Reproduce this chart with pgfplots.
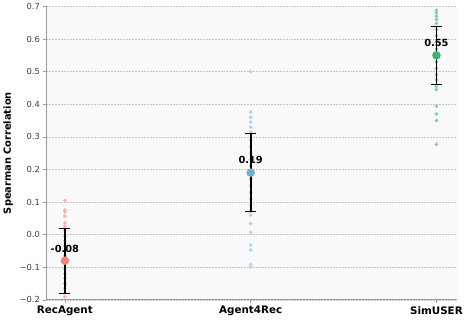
\documentclass[border=0pt]{standalone}
\usepackage{pgfplots}
\pgfplotsset{compat=1.18}
\usepackage{fontspec}
\setmainfont{DejaVu Sans}
\definecolor{cRA}{HTML}{FA8072}
\definecolor{cA4}{HTML}{6BAED6}
\definecolor{cSU}{HTML}{3CB371}
\definecolor{bg}{HTML}{F9F9F9}
\definecolor{spine}{HTML}{999999}
\colorlet{pRA}{cRA!60!white}
\colorlet{pA4}{cA4!50!white}
\colorlet{pSU}{cSU!60!white}
\begin{document}
\begin{tikzpicture}
\begin{axis}[
  scale only axis, width=417pt, height=298pt,
  xmin=-0.1, xmax=2.11, ymin=-0.2, ymax=0.7,
  axis x line*=bottom, axis y line*=left,
  axis line style={spine, line width=0.8pt, -},
  axis background/.style={fill=bg},
  xtick={0,1,2}, xticklabels={\textbf{RecAgent},\textbf{Agent4Rec},\textbf{SimUSER}},
  ytick={-0.2,-0.1,0,0.1,0.2,0.3,0.4,0.5,0.6,0.7},
  yticklabels={−0.2,−0.1,0.0,0.1,0.2,0.3,0.4,0.5,0.6,0.7},
  ticklabel style={font=\fontsize{8.5}{9}\selectfont, text=black!75},
  xticklabel style={font=\fontsize{10.5}{11}\selectfont, text=black},
  tick align=outside, major tick length=3pt,
  tick style={spine, line width=0.6pt},
  ymajorgrids, grid style={dash pattern=on 2pt off 1pt, gray!45, line width=0.5pt},
  ylabel={\textbf{Spearman Correlation}},
  ylabel style={font=\fontsize{10}{11}\selectfont},
  clip=false, clip marker paths=true,
]
% RecAgent points
\addplot[only marks, mark=*, mark size=1.9pt, mark options={draw=pRA, line width=0.1pt, fill=pRA}] coordinates {
(0,0.105)(0,0.076)(0,0.070)(0,0.057)(0,0.036)(0,0.026)(0,0.012)(0,-0.005)(0,-0.02)(0,-0.035)(0,-0.05)(0,-0.065)(0,-0.09)(0,-0.105)(0,-0.12)(0,-0.135)(0,-0.15)(0,-0.165)(0,-0.19)
};
% Agent4Rec points
\addplot[only marks, mark=*, mark size=1.9pt, mark options={draw=pA4, line width=0.1pt, fill=pA4}] coordinates {
(1,0.50)(1,0.376)(1,0.36)(1,0.345)(1,0.33)(1,0.315)(1,0.29)(1,0.27)(1,0.25)(1,0.23)(1,0.21)(1,0.17)(1,0.15)(1,0.13)(1,0.11)(1,0.09)(1,0.07)(1,0.06)(1,0.034)(1,0.007)(1,-0.032)(1,-0.047)(1,-0.092)(1,-0.10)
};
% SimUSER points
\addplot[only marks, mark=*, mark size=1.9pt, mark options={draw=pSU, line width=0.1pt, fill=pSU}] coordinates {
(2,0.688)(2,0.68)(2,0.67)(2,0.66)(2,0.648)(2,0.63)(2,0.61)(2,0.59)(2,0.57)(2,0.53)(2,0.51)(2,0.49)(2,0.475)(2,0.455)(2,0.445)(2,0.394)(2,0.37)(2,0.35)(2,0.277)
};
% error bars (mean +- sd)
\addplot[draw=black, solid, line width=1.8pt, mark=-, mark size=5.5pt, mark options={line width=1pt, solid, draw=black}] coordinates {(0,-0.18)(0,0.02)};
\addplot[draw=black, solid, line width=1.8pt, mark=-, mark size=5.5pt, mark options={line width=1pt, solid, draw=black}] coordinates {(1,0.07)(1,0.31)};
\addplot[draw=black, solid, line width=1.8pt, mark=-, mark size=5.5pt, mark options={line width=1pt, solid, draw=black}] coordinates {(2,0.46)(2,0.64)};
% means
\addplot[only marks, mark=*, mark size=4.2pt, mark options={draw=cRA, line width=0.1pt, fill=cRA}] coordinates {(0,-0.08)};
\addplot[only marks, mark=*, mark size=4.2pt, mark options={draw=cA4, line width=0.1pt, fill=cA4}] coordinates {(1,0.19)};
\addplot[only marks, mark=*, mark size=4.2pt, mark options={draw=cSU, line width=0.1pt, fill=cSU}] coordinates {(2,0.55)};
% labels
\addplot[only marks, mark=none, nodes near coords, point meta=explicit symbolic,
  nodes near coords style={font=\fontsize{10}{11}\selectfont\bfseries, anchor=center, text=black}]
  coordinates {(0,-0.044)[-0.08] (1,0.228)[0.19] (2,0.588)[0.55]};
\end{axis}
\end{tikzpicture}
\end{document}
